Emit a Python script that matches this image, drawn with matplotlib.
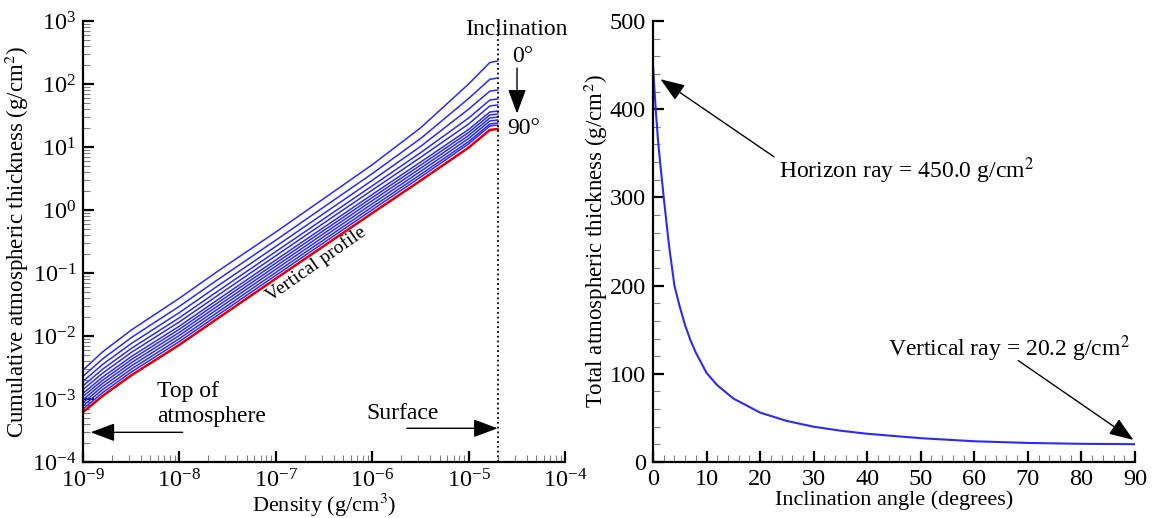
import matplotlib
matplotlib.use('Agg')
import matplotlib.pyplot as plt
import numpy as np
from matplotlib.ticker import LogLocator, MultipleLocator, NullFormatter

plt.rcParams['font.family'] = ['Liberation Serif', 'DejaVu Serif']
plt.rcParams['mathtext.fontset'] = 'stix'

# left panel: cumulative thickness vs density, log10(g/cm^2), inclined rays 0deg -> 90deg
density = [1e-9, 1.6e-9, 3.2e-9, 1e-8, 2.5e-8, 1e-7, 1e-6, 3.2e-6, 1e-5, 1.66e-5, 2e-5]
inclined_log = [
    [-2.54, -2.251, -1.901, -1.400, -0.972, -0.350, 0.718, 1.308, 2.000, 2.341, 2.365],
    [-2.64, -2.363, -2.021, -1.529, -1.105, -0.479, 0.577, 1.138, 1.770, 2.074, 2.095],
    [-2.72, -2.451, -2.115, -1.628, -1.205, -0.578, 0.471, 1.013, 1.600, 1.886, 1.905],
    [-2.79, -2.526, -2.193, -1.710, -1.289, -0.660, 0.383, 0.913, 1.460, 1.745, 1.762],
    [-2.85, -2.589, -2.257, -1.776, -1.356, -0.726, 0.315, 0.839, 1.365, 1.651, 1.667],
    [-2.91, -2.651, -2.322, -1.843, -1.423, -0.793, 0.246, 0.764, 1.279, 1.555, 1.571],
    [-2.96, -2.701, -2.371, -1.892, -1.472, -0.842, 0.197, 0.715, 1.231, 1.508, 1.524],
    [-3.01, -2.751, -2.421, -1.942, -1.522, -0.892, 0.148, 0.666, 1.183, 1.460, 1.476],
    [-3.06, -2.800, -2.471, -1.991, -1.571, -0.941, 0.098, 0.617, 1.135, 1.413, 1.429],
    [-3.11, -2.850, -2.521, -2.041, -1.621, -0.991, 0.049, 0.568, 1.086, 1.365, 1.381],
    [-3.16, -2.899, -2.568, -2.088, -1.668, -1.038, 0.003, 0.525, 1.049, 1.333, 1.349],
]
vertical_log = [-3.21, -2.95, -2.62, -2.14, -1.72, -1.09, -0.05, 0.47, 0.99, 1.27, 1.286]
surface_density = 2e-5

# right panel: total thickness vs inclination
angle = [0, 0.5, 1, 2, 3, 4, 5, 6, 7, 8, 10, 12, 15, 20, 25, 30, 35, 40, 50, 60, 70, 80, 90]
total = [450, 400, 360, 300, 245, 200, 176, 155, 138, 124, 101, 87, 72, 56, 46.5,
         40, 35.5, 32, 27, 23.5, 21.6, 20.6, 20.2]

fig = plt.figure(figsize=(11.52, 5.18), dpi=100)
ax1 = fig.add_axes([83/1152, 56/518, 482/1152, 441/518])
ax2 = fig.add_axes([653/1152, 56/518, 482/1152, 441/518])

for ax in (ax1, ax2):
    for s in ('top', 'right'):
        ax.spines[s].set_visible(False)
    for s in ('left', 'bottom'):
        ax.spines[s].set_linewidth(1.6)
    ax.tick_params(which='major', direction='in', length=8, width=1.6, labelsize=17.5, pad=5)
    ax.tick_params(which='minor', direction='in', length=5, width=0.8, color='0.5')
    ax.tick_params(axis='x', which='major', pad=5)

for row in inclined_log:
    ax1.plot(density, 10 ** np.array(row), color='#2a2aff', lw=1.1)
ax1.plot(density, 10 ** np.array(vertical_log), color='#e00000', lw=1.8)
ax1.axvline(surface_density, color='k', ls=':', lw=1.3)

ax1.set_xscale('log')
ax1.set_yscale('log')
ax1.set_xlim(1e-9, 1e-4)
ax1.set_ylim(1e-4, 1e3)
for axis in (ax1.xaxis, ax1.yaxis):
    axis.set_major_locator(LogLocator(base=10, numticks=20))
    axis.set_minor_locator(LogLocator(base=10, subs=np.arange(2, 10), numticks=200))
    axis.set_minor_formatter(NullFormatter())

ax1.set_xlabel('Density (g/cm$^3$)', fontsize=16)
ax1.set_ylabel('Cumulative atmospheric thickness (g/cm$^2$)', fontsize=16.5)
ax1.xaxis.set_label_coords(0.5, -0.068)
ax1.yaxis.set_label_coords(-0.108, 0.5)

arw = dict(arrowstyle='-|>,head_length=0.75,head_width=0.28', color='k', lw=1.0,
           shrinkA=0, shrinkB=0, mutation_scale=20)
ax1.text(3.1e-5, 720, 'Inclination', fontsize=17, ha='center', va='center')
ax1.text(3.6e-5, 278, '0°', fontsize=17, ha='center', va='center')
ax1.text(3.76e-5, 20, '90°', fontsize=17, ha='center', va='center')
ax1.annotate('', xy=(3.18e-5, 34), xytext=(3.18e-5, 179), arrowprops=arw)
ax1.text(2.6e-7, 0.14, 'Vertical profile', fontsize=14, rotation=35,
         ha='center', va='center', rotation_mode='anchor')
ax1.text(5.86e-9, 8.3e-4, 'Top of\natmosphere', fontsize=17, ha='left', va='center',
         linespacing=1.3)
ax1.annotate('', xy=(1.2e-9, 2.96e-4), xytext=(1.08e-8, 2.96e-4), arrowprops=arw)
ax1.text(8.8e-7, 5.8e-4, 'Surface', fontsize=17, ha='left', va='center')
ax1.annotate('', xy=(surface_density, 3.43e-4), xytext=(2.28e-6, 3.43e-4), arrowprops=arw)

ax2.plot(angle, total, color='#2a2aff', lw=1.5)
ax2.set_xlim(0, 90)
ax2.set_ylim(0, 500)
ax2.xaxis.set_major_locator(MultipleLocator(10))
ax2.xaxis.set_minor_locator(MultipleLocator(2))
ax2.yaxis.set_major_locator(MultipleLocator(100))
ax2.yaxis.set_minor_locator(MultipleLocator(20))
ax2.set_xlabel('Inclination angle (degrees)', fontsize=16)
ax2.set_ylabel('Total atmospheric thickness (g/cm$^2$)', fontsize=16.5)
ax2.xaxis.set_label_coords(0.5, -0.065)
ax2.yaxis.set_label_coords(-0.09, 0.5)

ax2.text(23.5, 330, 'Horizon ray = 450.0 g/cm$^2$', fontsize=17, ha='left', va='center')
ax2.annotate('', xy=(1.4, 434), xytext=(22.6, 346), arrowprops=arw)
ax2.text(43.9, 128, 'Vertical ray = 20.2 g/cm$^2$', fontsize=17, ha='left', va='center')
ax2.annotate('', xy=(89.7, 25), xytext=(68.2, 115), arrowprops=arw)

fig.savefig('out.png', dpi=100)
